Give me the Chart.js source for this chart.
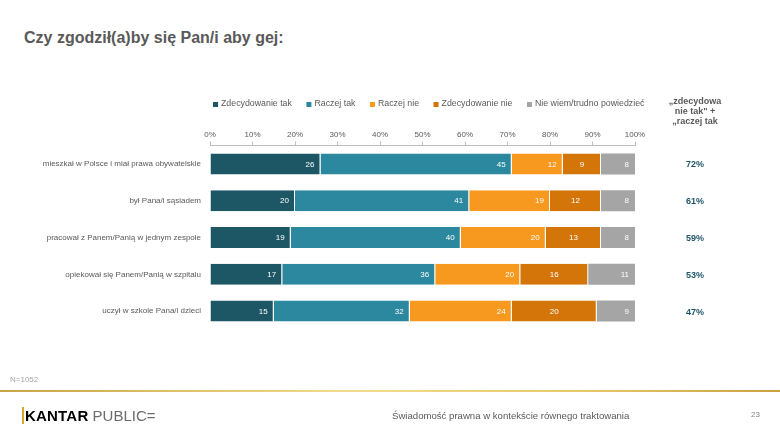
<!DOCTYPE html>
<html>
<head>
<meta charset="utf-8">
<script src="https://cdn.jsdelivr.net/npm/chart.js@4/dist/chart.umd.min.js"></script>
<style>
  html, body { margin: 0; padding: 0; background: #fff; }
  body { width: 780px; height: 439px; position: relative; overflow: hidden; font-family: "Liberation Sans", Arial, sans-serif; }
  #wrap { position: absolute; left: 0; top: 0; width: 780px; height: 439px; }
  .title { position: absolute; left: 24px; top: 28px; font-size: 16px; font-weight: bold; color: #595959; line-height: 20px; }
  .note { position: absolute; left: 10px; top: 375px; font-size: 8px; color: #a6a6a6; }
  .goldline { position: absolute; left: 0; top: 390px; width: 780px; height: 2px;
    background: linear-gradient(to right, #c8a443, #f3dc8f 45%, #e7c869 75%, #c9a23c); }
  .logo { position: absolute; left: 22px; top: 407px; font-size: 15px; line-height: 18px; color: #000; }
  .logo b { font-weight: bold; letter-spacing: 0.2px; border-left: 2px solid #d4a82a; padding-left: 1px; }
  .logo span { color: #6b6b6b; font-weight: normal; }
  .subject { position: absolute; left: 392px; top: 410px; font-size: 9.6px; color: #595959; }
  .page { position: absolute; left: 751px; top: 410px; font-size: 8px; color: #7f7f7f; }
</style>
</head>
<body>
<div class="title">Czy zgodził(a)by się Pan/i aby gej:</div>
<div id="wrap"><canvas id="chart" width="780" height="439"></canvas></div>
<div class="note">N=1052</div>
<div class="goldline"></div>
<div class="logo"><b>KANTAR</b> <span>PUBLIC=</span></div>
<div class="subject">Świadomość prawna w kontekście równego traktowania</div>
<div class="page">23</div>
<script>
// Chart data
const categories = [
    "mieszkał w Polsce i miał prawa obywatelskie",
    "był Pana/i sąsiadem",
    "pracował z Panem/Panią w jednym zespole",
    "opiekował się Panem/Panią w szpitalu",
    "uczył w szkole Pana/i dzieci"
];
const seriesNames = ["Zdecydowanie tak", "Raczej tak", "Raczej nie", "Zdecydowanie nie", "Nie wiem/trudno powiedzieć"];
const zdecydowanieTak = [26, 20, 19, 17, 15];
const raczejTak = [45, 41, 40, 36, 32];
const raczejNie = [12, 19, 20, 20, 24];
const zdecydowanieNie = [9, 12, 13, 16, 20];
const nieWiem = [8, 8, 8, 11, 9];
const sumTak = [72, 61, 59, 53, 47];
const sumHeader = ["„zdecydowa", "nie tak\" +", "„raczej tak"];
const xTicks = [0, 10, 20, 30, 40, 50, 60, 70, 80, 90, 100];

const colors = ["#1d5766", "#2b889e", "#f7991e", "#d47509", "#a5a5a5"];
const seriesValues = [zdecydowanieTak, raczejTak, raczejNie, zdecydowanieNie, nieWiem];

const FONT = "'Liberation Sans', Arial, sans-serif";

// Draw value labels inside the bars
const barLabels = {
    id: "barLabels",
    afterDatasetsDraw(chart) {
        const c = chart.ctx;
        c.save();
        c.font = "8px " + FONT;
        c.fillStyle = "#ffffff";
        c.textBaseline = "middle";
        chart.data.datasets.forEach((ds, i) => {
            const meta = chart.getDatasetMeta(i);
            meta.data.forEach((bar, j) => {
                const txt = String(ds.data[j]);
                if (i === 3) {
                    c.textAlign = "center";
                    c.fillText(txt, (bar.x + bar.base) / 2, bar.y + 0.5);
                } else {
                    c.textAlign = "right";
                    c.fillText(txt, bar.x - 6, bar.y + 0.5);
                }
            });
        });
        c.restore();
    }
};

// Legend row and the right-hand summary column
const extras = {
    id: "extras",
    afterDraw(chart) {
        const c = chart.ctx;
        c.save();
        // legend
        c.font = "8.8px " + FONT;
        c.textBaseline = "middle";
        c.textAlign = "left";
        let x = 213;
        const y = 104;
        chart.data.datasets.forEach(ds => {
            c.fillStyle = ds.backgroundColor;
            c.fillRect(x, y - 2, 5, 5);
            c.fillStyle = "#595959";
            c.fillText(ds.label, x + 8, y);
            x += 8 + c.measureText(ds.label).width + 14.5;
        });
        // header of summary column
        c.font = "bold 9px " + FONT;
        c.textAlign = "center";
        c.fillStyle = "#595959";
        sumHeader.forEach((line, k) => c.fillText(line, 695, 102 + k * 10));
        // summary values
        c.fillStyle = "#1f5468";
        const ys = chart.scales.y;
        sumTak.forEach((v, j) => c.fillText(v + "%", 695, ys.getPixelForValue(j) + 1));
        c.restore();
    }
};

const ctx = document.getElementById("chart").getContext("2d");
new Chart(ctx, {
    type: "bar",
    data: {
        labels: categories,
        datasets: seriesValues.map((vals, i) => ({
            label: seriesNames[i],
            data: vals,
            backgroundColor: colors[i],
            borderColor: "rgba(255,255,255,0.85)",
            borderWidth: { left: 0, top: 0, bottom: 0, right: i === 4 ? 0 : 1 },
            borderSkipped: false,
            barPercentage: 0.57,
            categoryPercentage: 1
        }))
    },
    options: {
        indexAxis: "y",
        responsive: false,
        animation: false,
        maintainAspectRatio: false,
        layout: { padding: { left: 0, right: 145, top: 115.5, bottom: 109.5 } },
        plugins: {
            legend: { display: false },
            tooltip: { enabled: false }
        },
        scales: {
            x: {
                position: "top",
                stacked: true,
                min: 0,
                max: 100,
                afterBuildTicks: s => { s.ticks = xTicks.map(v => ({ value: v })); },
                afterFit: s => { s.height = 30; },
                ticks: {
                    callback: v => v + "%",
                    font: { size: 8, family: FONT },
                    color: "#595959",
                    padding: 2,
                    maxRotation: 0
                },
                grid: { drawOnChartArea: false, drawTicks: true, tickLength: 4, color: "#bfbfbf" },
                border: { display: true, color: "#bfbfbf" }
            },
            y: {
                stacked: true,
                afterFit: s => { s.width = 210; },
                ticks: {
                    font: { size: 8, family: FONT },
                    color: "#595959",
                    padding: 9
                },
                grid: { display: false, drawTicks: false },
                border: { display: false }
            }
        }
    },
    plugins: [barLabels, extras]
});
</script>
</body>
</html>
